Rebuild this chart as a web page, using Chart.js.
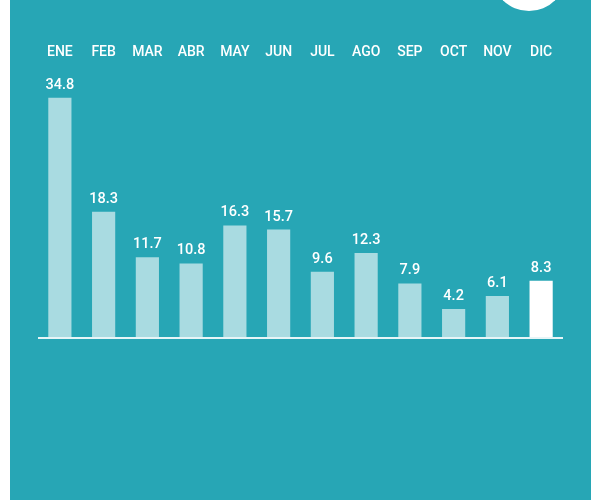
<!DOCTYPE html>
<html>
<head>
<meta charset="utf-8">
<script src="https://cdn.jsdelivr.net/npm/chart.js@4"></script>
<style>
  html, body { margin: 0; padding: 0; background: #fff; }
  #wrap { position: relative; width: 600px; height: 500px; overflow: hidden; }
  #panel { position: absolute; left: 10px; top: 0; width: 581px; height: 500px; background: #27a6b5; }
  #dot { position: absolute; left: 492px; top: -63px; width: 74px; height: 74px; border-radius: 50%; background: #fff; }
  canvas { position: absolute; left: 0; top: 0; }
</style>
</head>
<body>
<div id="wrap">
  <div id="panel"></div>
  <div id="dot"></div>
  <canvas id="chart-meses" width="600" height="500"></canvas>
</div>
<script>
const meses = ["ENE", "FEB", "MAR", "ABR", "MAY", "JUN", "JUL", "AGO", "SEP", "OCT", "NOV", "DIC"];
const valores = [34.8, 18.3, 11.7, 10.8, 16.3, 15.7, 9.6, 12.3, 7.9, 4.2, 6.1, 8.3];

const barColors = meses.map((m, i) => i === meses.length - 1 ? '#ffffff' : '#a9dbe1');

// etiquetas de valor encima de cada barra
const valueLabels = {
  id: 'valueLabels',
  afterDatasetsDraw(chart) {
    const ctx = chart.ctx;
    const meta = chart.getDatasetMeta(0);
    ctx.save();
    ctx.fillStyle = '#ffffff';
    ctx.font = '500 14.5px Roboto';
    ctx.textAlign = 'center';
    ctx.textBaseline = 'alphabetic';
    meta.data.forEach((bar, i) => {
      ctx.fillText(valores[i].toFixed(1), bar.x, bar.y - 9);
    });
    ctx.restore();
  }
};

new Chart(document.getElementById("chart-meses"), {
  type: "bar",
  data: {
    labels: meses,
    datasets: [
      {
        data: valores,
        backgroundColor: barColors,
        borderWidth: 0,
        barPercentage: 0.53,
        categoryPercentage: 1,
      },
    ],
  },
  options: {
    responsive: false,
    animation: false,
    layout: {
      padding: { top: 43, bottom: 162, left: 38, right: 37 },
    },
    scales: {
      x: {
        position: 'top',
        grid: { display: false, drawTicks: false },
        border: { display: false },
        ticks: {
          color: '#ffffff',
          font: { family: 'Roboto', size: 14, weight: '500' },
          padding: 1,
        },
      },
      y: {
        min: 0,
        max: 40,
        ticks: { display: false },
        border: { display: false },
        grid: {
          drawTicks: false,
          lineWidth: 2,
          color: (c) => c.tick && c.tick.value === 0 ? '#e6f5f7' : 'transparent',
        },
      },
    },
    plugins: {
      legend: { display: false },
      tooltip: { enabled: false },
    },
  },
  plugins: [valueLabels],
});
</script>
</body>
</html>
